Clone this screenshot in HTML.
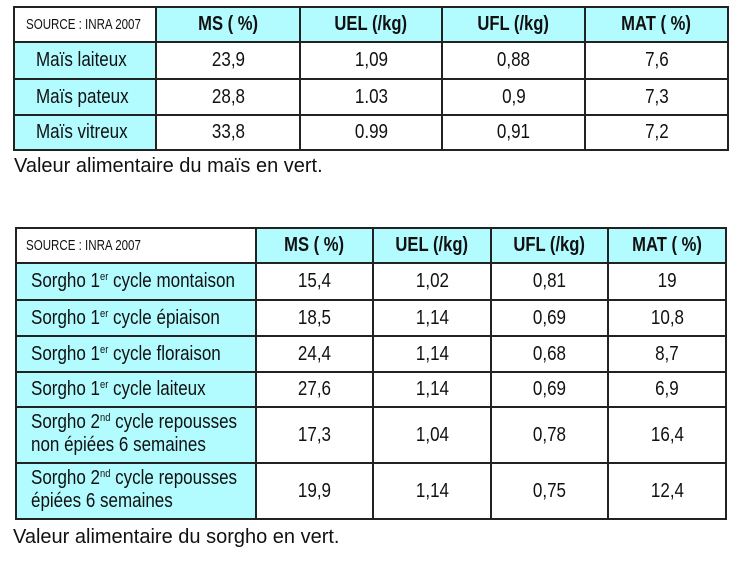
<!DOCTYPE html>
<html><head><meta charset="utf-8">
<style>
html,body{margin:0;padding:0;background:#fff;}
#c{position:relative;width:747px;height:570px;overflow:hidden;background:#fff;font-family:"Liberation Sans",sans-serif;color:#111;}
.bg{position:absolute;background:#b2fbff;}
.vl{position:absolute;width:2px;background:#222;}
.hl{position:absolute;height:2px;background:#222;}
.cell{position:absolute;display:flex;align-items:center;justify-content:center;font-size:20px;line-height:23px;white-space:nowrap;}
.cell span{display:inline-block;transform:scaleX(.85);}
.cell.l{justify-content:flex-start;}
.cell.l span{transform-origin:left center;}
.cell.b{font-weight:bold;}
.cell.b span{transform:scaleX(.83);}
.cell.s{font-size:15px;justify-content:flex-start;}
.cell.s span{transform:scaleX(.77);transform-origin:left center;}
sup{font-size:11px;line-height:0;position:relative;top:-1px;vertical-align:6px;}
.cap{position:absolute;font-size:20px;line-height:23px;white-space:nowrap;}
</style></head>
<body><div id="c">

<!-- TABLE 1 backgrounds -->
<div class="bg" style="left:156px;top:7px;width:572px;height:35px;"></div>
<div class="bg" style="left:14px;top:42px;width:142px;height:108px;"></div>
<!-- TABLE 1 lines -->
<div class="vl" style="left:13px;top:6px;height:145px;"></div>
<div class="vl" style="left:155px;top:6px;height:145px;"></div>
<div class="vl" style="left:299px;top:6px;height:145px;"></div>
<div class="vl" style="left:441px;top:6px;height:145px;"></div>
<div class="vl" style="left:584px;top:6px;height:145px;"></div>
<div class="vl" style="left:727px;top:6px;height:145px;"></div>
<div class="hl" style="left:13px;top:6px;width:716px;"></div>
<div class="hl" style="left:13px;top:41px;width:716px;"></div>
<div class="hl" style="left:13px;top:78px;width:716px;"></div>
<div class="hl" style="left:13px;top:114px;width:716px;"></div>
<div class="hl" style="left:13px;top:149px;width:716px;"></div>
<!-- TABLE 1 text -->
<div class="cell s" style="left:26px;top:7px;width:130px;height:35px;"><span>SOURCE : INRA 2007</span></div>
<div class="cell b" style="left:156px;top:7px;width:144px;height:35px;"><span>MS ( %)</span></div>
<div class="cell b" style="left:300px;top:7px;width:142px;height:35px;"><span>UEL (/kg)</span></div>
<div class="cell b" style="left:442px;top:7px;width:143px;height:35px;"><span>UFL (/kg)</span></div>
<div class="cell b" style="left:585px;top:7px;width:143px;height:35px;"><span>MAT ( %)</span></div>

<div class="cell l" style="left:36px;top:42px;width:120px;height:37px;"><span>Maïs laiteux</span></div>
<div class="cell" style="left:156px;top:42px;width:144px;height:37px;"><span>23,9</span></div>
<div class="cell" style="left:300px;top:42px;width:142px;height:37px;"><span>1,09</span></div>
<div class="cell" style="left:442px;top:42px;width:143px;height:37px;"><span>0,88</span></div>
<div class="cell" style="left:585px;top:42px;width:143px;height:37px;"><span>7,6</span></div>

<div class="cell l" style="left:36px;top:79px;width:120px;height:36px;"><span>Maïs pateux</span></div>
<div class="cell" style="left:156px;top:79px;width:144px;height:36px;"><span>28,8</span></div>
<div class="cell" style="left:300px;top:79px;width:142px;height:36px;"><span>1.03</span></div>
<div class="cell" style="left:442px;top:79px;width:143px;height:36px;"><span>0,9</span></div>
<div class="cell" style="left:585px;top:79px;width:143px;height:36px;"><span>7,3</span></div>

<div class="cell l" style="left:36px;top:115px;width:120px;height:35px;"><span>Maïs vitreux</span></div>
<div class="cell" style="left:156px;top:115px;width:144px;height:35px;"><span>33,8</span></div>
<div class="cell" style="left:300px;top:115px;width:142px;height:35px;"><span>0.99</span></div>
<div class="cell" style="left:442px;top:115px;width:143px;height:35px;"><span>0,91</span></div>
<div class="cell" style="left:585px;top:115px;width:143px;height:35px;"><span>7,2</span></div>

<div class="cap" style="left:14px;top:155px;">Valeur alimentaire du maïs en vert.</div>

<!-- TABLE 2 backgrounds -->
<div class="bg" style="left:256px;top:228px;width:470px;height:35px;"></div>
<div class="bg" style="left:16px;top:263px;width:240px;height:256px;"></div>
<!-- TABLE 2 lines -->
<div class="vl" style="left:15px;top:227px;height:293px;"></div>
<div class="vl" style="left:255px;top:227px;height:293px;"></div>
<div class="vl" style="left:372px;top:227px;height:293px;"></div>
<div class="vl" style="left:490px;top:227px;height:293px;"></div>
<div class="vl" style="left:607px;top:227px;height:293px;"></div>
<div class="vl" style="left:725px;top:227px;height:293px;"></div>
<div class="hl" style="left:15px;top:227px;width:712px;"></div>
<div class="hl" style="left:15px;top:262px;width:712px;"></div>
<div class="hl" style="left:15px;top:299px;width:712px;"></div>
<div class="hl" style="left:15px;top:335px;width:712px;"></div>
<div class="hl" style="left:15px;top:371px;width:712px;"></div>
<div class="hl" style="left:15px;top:406px;width:712px;"></div>
<div class="hl" style="left:15px;top:462px;width:712px;"></div>
<div class="hl" style="left:15px;top:518px;width:712px;"></div>
<!-- TABLE 2 text -->
<div class="cell s" style="left:26px;top:228px;width:230px;height:35px;"><span>SOURCE : INRA 2007</span></div>
<div class="cell b" style="left:256px;top:228px;width:117px;height:35px;"><span>MS ( %)</span></div>
<div class="cell b" style="left:373px;top:228px;width:118px;height:35px;"><span>UEL (/kg)</span></div>
<div class="cell b" style="left:491px;top:228px;width:117px;height:35px;"><span>UFL (/kg)</span></div>
<div class="cell b" style="left:608px;top:228px;width:118px;height:35px;"><span>MAT ( %)</span></div>

<div class="cell l" style="left:31px;top:263px;width:225px;height:37px;"><span>Sorgho 1<sup>er</sup> cycle montaison</span></div>
<div class="cell" style="left:256px;top:263px;width:117px;height:37px;"><span>15,4</span></div>
<div class="cell" style="left:373px;top:263px;width:118px;height:37px;"><span>1,02</span></div>
<div class="cell" style="left:491px;top:263px;width:117px;height:37px;"><span>0,81</span></div>
<div class="cell" style="left:608px;top:263px;width:118px;height:37px;"><span>19</span></div>

<div class="cell l" style="left:31px;top:300px;width:225px;height:36px;"><span>Sorgho 1<sup>er</sup> cycle épiaison</span></div>
<div class="cell" style="left:256px;top:300px;width:117px;height:36px;"><span>18,5</span></div>
<div class="cell" style="left:373px;top:300px;width:118px;height:36px;"><span>1,14</span></div>
<div class="cell" style="left:491px;top:300px;width:117px;height:36px;"><span>0,69</span></div>
<div class="cell" style="left:608px;top:300px;width:118px;height:36px;"><span>10,8</span></div>

<div class="cell l" style="left:31px;top:336px;width:225px;height:36px;"><span>Sorgho 1<sup>er</sup> cycle floraison</span></div>
<div class="cell" style="left:256px;top:336px;width:117px;height:36px;"><span>24,4</span></div>
<div class="cell" style="left:373px;top:336px;width:118px;height:36px;"><span>1,14</span></div>
<div class="cell" style="left:491px;top:336px;width:117px;height:36px;"><span>0,68</span></div>
<div class="cell" style="left:608px;top:336px;width:118px;height:36px;"><span>8,7</span></div>

<div class="cell l" style="left:31px;top:372px;width:225px;height:35px;"><span>Sorgho 1<sup>er</sup> cycle laiteux</span></div>
<div class="cell" style="left:256px;top:372px;width:117px;height:35px;"><span>27,6</span></div>
<div class="cell" style="left:373px;top:372px;width:118px;height:35px;"><span>1,14</span></div>
<div class="cell" style="left:491px;top:372px;width:117px;height:35px;"><span>0,69</span></div>
<div class="cell" style="left:608px;top:372px;width:118px;height:35px;"><span>6,9</span></div>

<div class="cell l" style="left:31px;top:406px;width:225px;height:56px;"><span>Sorgho 2<sup>nd</sup> cycle repousses<br>non épiées 6 semaines</span></div>
<div class="cell" style="left:256px;top:407px;width:117px;height:56px;"><span>17,3</span></div>
<div class="cell" style="left:373px;top:407px;width:118px;height:56px;"><span>1,04</span></div>
<div class="cell" style="left:491px;top:407px;width:117px;height:56px;"><span>0,78</span></div>
<div class="cell" style="left:608px;top:407px;width:118px;height:56px;"><span>16,4</span></div>

<div class="cell l" style="left:31px;top:462px;width:225px;height:56px;"><span>Sorgho 2<sup>nd</sup> cycle repousses<br>épiées 6 semaines</span></div>
<div class="cell" style="left:256px;top:463px;width:117px;height:56px;"><span>19,9</span></div>
<div class="cell" style="left:373px;top:463px;width:118px;height:56px;"><span>1,14</span></div>
<div class="cell" style="left:491px;top:463px;width:117px;height:56px;"><span>0,75</span></div>
<div class="cell" style="left:608px;top:463px;width:118px;height:56px;"><span>12,4</span></div>

<div class="cap" style="left:13px;top:526px;">Valeur alimentaire du sorgho en vert.</div>

</div></body></html>
